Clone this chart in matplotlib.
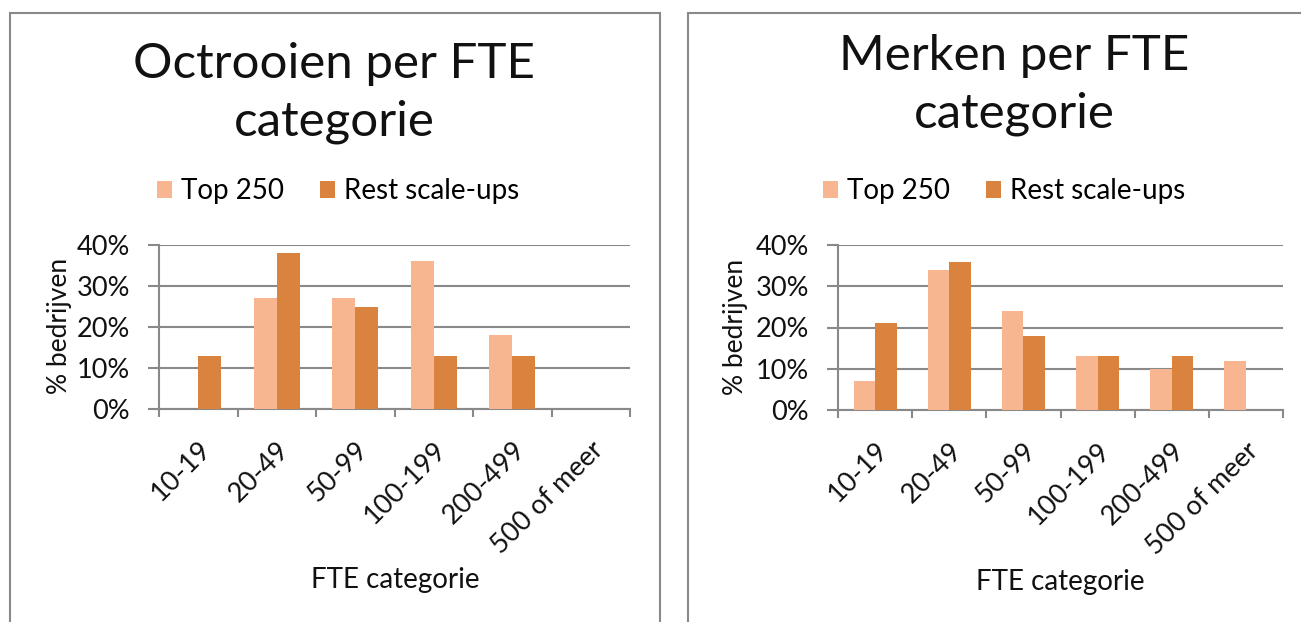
import matplotlib
matplotlib.use('Agg')
from matplotlib import pyplot as plt
from matplotlib.patches import Rectangle
from matplotlib.transforms import ScaledTranslation
import numpy as np

plt.rcParams['font.family'] = ['Lato', 'DejaVu Sans']

categories = ['10-19', '20-49', '50-99', '100-199', '200-499', '500 of meer']
series_names = ['Top 250', 'Rest scale-ups']

octrooien_top250 = [0, 27, 27, 36, 18, 0]
octrooien_rest = [13, 38, 25, 13, 13, 0]

merken_top250 = [7, 34, 24, 13, 10, 12]
merken_rest = [21, 36, 18, 13, 13, 0]

light = '#F7B690'
dark = '#DA833E'
grey = '#898989'
ink = '#111111'

W, H = 1301, 622
fig = plt.figure(figsize=(W / 100, H / 100), dpi=100)


def px(x0, y0, x1, y1):
    # pixel box -> figure fraction rect
    return [x0 / W, 1 - y1 / H, (x1 - x0) / W, (y1 - y0) / H]


def panel(box, axrect, title, title_x, title_base, leg_xy, ylab_xy, xlab_xy, top, rest):
    # chart border
    fig.patches.append(Rectangle((box[0] / W, -0.1), (box[1] - box[0]) / W, 1.1 - box[2] / H,
                                 transform=fig.transFigure, fill=False, edgecolor=grey,
                                 linewidth=1.5, clip_on=False))
    ax = fig.add_axes(px(*axrect))
    x = np.arange(len(categories))
    w = 0.29
    ax.bar(x - w / 2, top, w, color=light, label=series_names[0], zorder=3)
    ax.bar(x + w / 2, rest, w, color=dark, label=series_names[1], zorder=3)

    ax.set_xlim(-0.5, len(categories) - 0.5)
    ax.set_ylim(0, 40)
    ax.set_yticks([0, 10, 20, 30, 40])
    ax.set_yticklabels([f'{v}%' for v in [0, 10, 20, 30, 40]])
    ax.set_xticks(x)
    ax.set_xticklabels(categories, rotation=45, ha='right', rotation_mode='anchor')
    shift = ScaledTranslation(5 / 100, 0, fig.dpi_scale_trans)
    for lab in ax.get_xticklabels():
        lab.set_transform(lab.get_transform() + shift)
    ax.set_xticks(np.arange(-0.5, len(categories)), minor=True)
    ax.tick_params(axis='x', which='major', length=0, pad=20, labelsize=19.5, colors=ink)
    ax.tick_params(axis='x', which='minor', length=6, width=1.5, color=grey)
    ax.tick_params(axis='y', length=8, width=1.5, color=grey, pad=13, labelsize=19.5, labelcolor=ink)

    ax.yaxis.grid(True, color=grey, linewidth=1.5, zorder=0)
    ax.set_axisbelow(True)
    for s in ['top', 'right']:
        ax.spines[s].set_visible(False)
    for s in ['left', 'bottom']:
        ax.spines[s].set_color(grey)
        ax.spines[s].set_linewidth(1.5)

    for line, yb in zip(title.split('\n'), title_base):
        fig.text(title_x / W, 1 - yb / H, line, ha='center', va='baseline',
                 fontsize=35.5, color=ink)
    ax.legend(loc='center', bbox_to_anchor=(leg_xy[0] / W, 1 - leg_xy[1] / H),
              bbox_transform=fig.transFigure, ncol=2, frameon=False, fontsize=20,
              handlelength=0.55, handleheight=0.55, handletextpad=0.3, columnspacing=1.3)
    fig.text(ylab_xy[0] / W, 1 - ylab_xy[1] / H, '% bedrijven', rotation=90,
             ha='center', va='center', fontsize=19, color=ink)
    fig.text(xlab_xy[0] / W, 1 - xlab_xy[1] / H, 'FTE categorie',
             ha='center', va='center', fontsize=20, color=ink)


panel((10, 660, 13), (159, 245, 630, 409), 'Octrooien per FTE\ncategorie',
      334, (78, 136), (338, 191), (59, 326), (395, 580), octrooien_top250, octrooien_rest)
panel((688, 1340, 13), (838, 245, 1283, 410), 'Merken per FTE\ncategorie',
      1014, (70, 128), (1004, 191), (736, 327), (1060, 582), merken_top250, merken_rest)

fig.savefig('out.png', dpi=100)
